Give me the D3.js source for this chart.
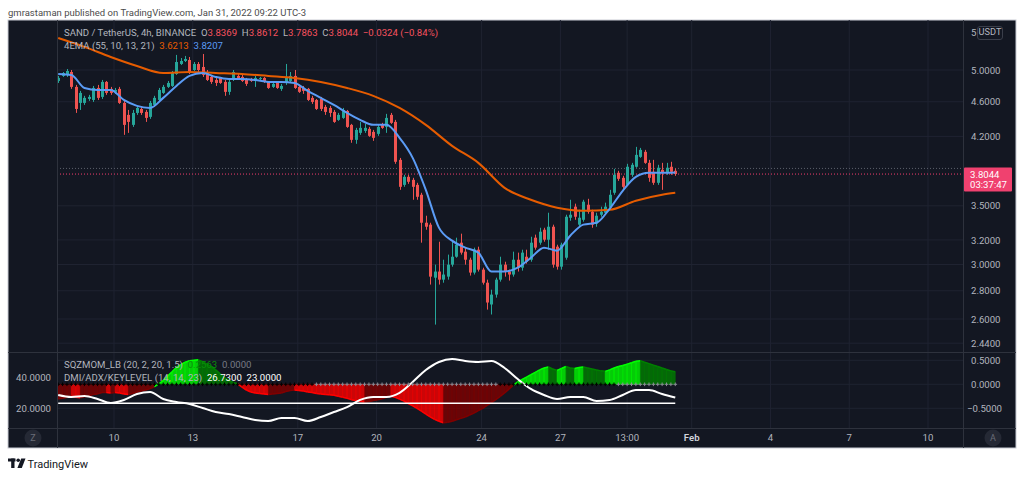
<!DOCTYPE html>
<html><head><meta charset="utf-8">
<script src="https://cdnjs.cloudflare.com/ajax/libs/d3/7.8.5/d3.min.js"></script>
<style>
html,body{margin:0;padding:0;background:#fff;overflow:hidden;}
svg{display:block;font-family:Roboto,"Noto Sans",sans-serif;}
text{white-space:pre;}
</style></head><body>
<svg id="c" width="1024" height="477"></svg>
<script>
// ---------------- DATA ----------------
const firstCandle = "2022-01-07T21:00:00Z"; // 4h candles, chart time UTC-3
const candleHours = 4;
const opens = [4.858,4.923,4.936,4.974,4.783,4.586,4.586,4.634,4.622,4.770,4.659,4.846,4.758,4.721,4.758,4.586,4.444,4.329,4.467,4.514,4.479,4.421,4.562,4.622,4.708,4.783,4.795,4.948,5.080,5.120,5.133,5.000,5.080,5.040,4.974,4.910,4.871,4.897,4.846,4.721,4.871,4.923,4.910,4.871,4.884,4.871,4.884,4.897,4.846,4.783,4.833,4.758,4.833,4.858,4.923,4.783,4.770,4.758,4.647,4.622,4.634,4.538,4.526,4.479,4.386,4.409,4.490,4.329,4.162,4.239,4.261,4.284,4.250,4.228,4.329,4.306,4.444,4.363,3.949,3.698,3.777,3.747,3.698,3.603,3.348,3.331,2.898,2.945,2.883,2.906,2.999,3.062,3.177,3.103,3.038,2.937,3.119,2.960,2.860,2.701,2.772,2.883,2.999,2.945,2.922,3.038,2.975,3.062,3.038,3.219,3.177,3.287,3.202,3.313,3.144,2.983,3.054,3.392,3.492,3.331,3.374,3.510,3.446,3.340,3.419,3.437,3.483,3.622,3.817,3.767,3.698,3.797,3.878,3.980,4.033,3.918,3.827,3.718,3.847,3.817,3.878,3.8369];
const highs = [4.923,4.974,5.013,5.000,4.808,4.733,4.672,4.684,4.795,4.808,4.871,4.858,4.783,4.770,4.783,4.610,4.502,4.502,4.550,4.538,4.502,4.610,4.672,4.770,4.808,4.858,4.987,5.202,5.160,5.188,5.174,5.106,5.106,5.215,5.000,4.936,4.897,4.910,4.871,4.884,5.000,4.948,4.936,4.897,4.897,4.923,4.910,4.910,4.858,4.833,4.846,4.821,5.080,4.974,5.000,4.808,4.795,4.770,4.672,4.634,4.659,4.562,4.550,4.502,4.467,4.526,4.502,4.340,4.295,4.363,4.340,4.306,4.272,4.329,4.352,4.456,4.467,4.386,3.969,3.797,3.797,3.767,3.718,3.622,3.410,3.348,2.999,3.185,3.038,3.079,3.185,3.219,3.253,3.136,3.054,3.136,3.144,2.975,2.883,2.808,2.898,3.062,3.022,2.960,3.103,3.095,3.119,3.119,3.227,3.245,3.304,3.304,3.437,3.331,3.160,3.177,3.419,3.556,3.520,3.464,3.556,3.565,3.464,3.437,3.492,3.529,3.650,3.857,3.837,3.787,3.908,3.918,4.086,4.075,4.054,3.949,3.949,3.898,3.918,3.918,3.929,3.8612];
const lows = [4.833,4.910,4.910,4.758,4.467,4.502,4.562,4.610,4.598,4.622,4.634,4.684,4.684,4.696,4.574,4.217,4.239,4.306,4.444,4.444,4.363,4.398,4.538,4.610,4.696,4.770,4.783,4.936,5.067,5.106,4.948,4.987,4.974,4.910,4.858,4.821,4.795,4.821,4.672,4.684,4.858,4.871,4.846,4.795,4.846,4.783,4.871,4.833,4.758,4.770,4.758,4.733,4.808,4.846,4.758,4.708,4.696,4.610,4.574,4.502,4.490,4.444,4.421,4.352,4.375,4.398,4.295,4.130,4.119,4.217,4.239,4.195,4.151,4.206,4.284,4.239,4.340,3.908,3.650,3.679,3.708,3.556,3.556,3.177,3.287,2.846,2.562,2.846,2.860,2.883,2.983,3.054,3.079,2.999,2.914,2.922,2.945,2.846,2.665,2.631,2.750,2.868,2.906,2.876,2.906,2.945,2.952,3.007,3.022,3.119,3.160,3.185,3.119,2.975,2.960,2.960,3.038,3.365,3.374,3.304,3.357,3.428,3.304,3.313,3.401,3.419,3.464,3.603,3.737,3.660,3.689,3.777,3.868,3.970,3.908,3.728,3.698,3.698,3.650,3.797,3.797,3.7863];
const closes = [4.897,4.961,4.987,4.783,4.514,4.708,4.647,4.659,4.770,4.647,4.846,4.708,4.708,4.745,4.586,4.329,4.363,4.467,4.526,4.467,4.409,4.586,4.647,4.745,4.783,4.833,4.961,5.106,5.120,5.147,4.961,5.080,5.000,4.936,4.871,4.846,4.833,4.833,4.721,4.846,4.974,4.884,4.858,4.821,4.858,4.897,4.897,4.846,4.770,4.821,4.770,4.795,4.897,4.923,4.770,4.721,4.733,4.622,4.598,4.514,4.514,4.479,4.467,4.363,4.444,4.502,4.306,4.162,4.272,4.295,4.295,4.206,4.184,4.306,4.295,4.409,4.352,3.929,3.679,3.777,3.728,3.679,3.584,3.348,3.313,2.906,2.945,2.883,2.922,2.999,3.062,3.160,3.095,3.038,2.937,3.119,2.960,2.860,2.715,2.772,2.883,2.999,2.945,2.922,3.038,2.975,3.095,3.022,3.177,3.136,3.270,3.202,3.313,2.999,2.983,3.160,3.401,3.419,3.401,3.392,3.538,3.446,3.331,3.410,3.446,3.492,3.603,3.797,3.757,3.679,3.878,3.898,4.001,4.054,3.918,3.767,3.718,3.868,3.817,3.868,3.827,3.8044];

// 4EMA (55, 10, 13, 21): slow (orange) and fast (blue), read at candle indices
const emaSlowAt = [0,6,12,18,24,30,36,42,48,54,60,66,72,78,84,90,96,102,108,114,120,126,132,138,141];
const emaSlow   = [5.438,5.313,5.174,5.053,4.961,4.974,4.961,4.948,4.923,4.897,4.846,4.770,4.672,4.526,4.329,4.097,3.918,3.669,3.556,3.483,3.455,3.464,3.547,3.603,3.6213];
const emaFastAt = [0,3,6,9,12,15,18,21,24,27,30,33,36,39,42,45,48,51,54,57,60,63,66,69,72,75,78,81,84,87,90,93,96,99,102,105,108,111,114,117,120,123,126,129,132,135,138,141];
const emaFast   = [4.948,4.936,4.770,4.745,4.745,4.622,4.550,4.526,4.647,4.795,4.923,4.961,4.910,4.884,4.884,4.871,4.846,4.846,4.833,4.733,4.647,4.562,4.467,4.386,4.329,4.329,4.184,3.970,3.650,3.305,3.194,3.136,3.095,2.945,2.945,2.975,3.054,3.136,3.111,3.236,3.331,3.348,3.473,3.641,3.777,3.817,3.817,3.8207];

// SQZMOM_LB momentum, one value per candle
const sqzMom = [-0.30,-0.29,-0.27,-0.26,-0.27,-0.28,-0.26,-0.24,-0.21,-0.20,-0.17,-0.17,-0.18,-0.17,-0.18,-0.20,-0.21,-0.19,-0.16,-0.14,-0.12,-0.09,-0.05,0.01,0.08,0.17,0.26,0.35,0.41,0.46,0.49,0.50,0.51,0.47,0.42,0.37,0.30,0.22,0.14,0.08,0.04,0.01,-0.06,-0.12,-0.16,-0.18,-0.19,-0.20,-0.21,-0.20,-0.19,-0.18,-0.15,-0.13,-0.12,-0.13,-0.14,-0.16,-0.17,-0.19,-0.20,-0.21,-0.22,-0.23,-0.25,-0.27,-0.29,-0.32,-0.34,-0.36,-0.37,-0.36,-0.34,-0.32,-0.30,-0.27,-0.25,-0.27,-0.31,-0.35,-0.40,-0.45,-0.50,-0.56,-0.62,-0.68,-0.73,-0.77,-0.80,-0.79,-0.77,-0.74,-0.71,-0.68,-0.64,-0.60,-0.55,-0.50,-0.44,-0.38,-0.32,-0.25,-0.18,-0.10,-0.02,0.05,0.10,0.15,0.20,0.25,0.30,0.34,0.36,0.32,0.29,0.33,0.37,0.34,0.33,0.35,0.36,0.34,0.32,0.30,0.28,0.27,0.30,0.34,0.37,0.39,0.42,0.45,0.48,0.49,0.46,0.43,0.40,0.37,0.34,0.31,0.28,0.26];
// squeeze-on candle index ranges (black crosses), others grey
const sqzOnRanges = [[0,58],[101,127]];

// DMI/ADX/KEYLEVEL (14,14,23): ADX read at candle indices
const adxAt = [0,3,6,9,12,15,18,21,24,27,30,33,36,39,42,45,48,51,54,57,60,63,66,69,72,75,78,81,84,87,90,93,96,99,102,105,108,111,114,117,120,123,126,129,132,135,138,141];
const adx   = [28.4,27.1,27.7,25.8,23.2,25.2,29.0,30.3,25.8,23.9,22.6,20.0,17.4,16.1,14.2,12.3,11.6,13.5,13.5,11.6,14.2,17.4,20.6,25.2,27.1,27.1,29.7,36.8,44.5,49.7,51.6,50.3,49.7,50.3,45.8,38.7,32.3,28.4,25.8,27.1,27.1,24.5,25.2,28.4,31.6,31.6,29.0,26.73];
const keyLevel = 23;

const priceTicks = [5.0,4.6,4.2,3.5,3.2,3.0,2.8,2.6,2.44];
const sqzTicks = [0.5,0,-0.5];
const adxTicks = [40,20];
const timeTicks = ["2022-01-10T00:00Z","2022-01-13T00:00Z","2022-01-17T00:00Z","2022-01-20T00:00Z","2022-01-24T00:00Z","2022-01-27T00:00Z","2022-01-29T13:00Z","2022-02-01T00:00Z","2022-02-04T00:00Z","2022-02-07T00:00Z","2022-02-10T00:00Z"];
const timeLabels = ["10","13","17","20","24","27","13:00","Feb","4","7","10"];
const lastPrice = 3.8044, lastHigh = 3.8612, countdown = "03:37:47";

// ---------------- LAYOUT ----------------
const svg = d3.select("#c");
const F = {x0:8, x1:1016, y0:20, y1:448};
const L = 57, R = 963, mainBot = 352, indBot = 428;
const bg = "#131722", gridC = "#1f2331", sepC = "#2e323d", txt = "#b2b5be";
const upC = "#26a69a", dnC = "#ef5350";
const FS = 9.6;

const x = d3.scaleUtc().domain([new Date("2022-01-10T00:00Z"), new Date("2022-02-10T00:00Z")]).range([114, 928]);
const y = d3.scaleLog().domain([2.6, 5]).range([319, 70]);
const ys = d3.scaleLinear().domain([-0.5, 0.5]).range([408.3, 360.3]);
const ya = d3.scaleLinear().domain([20, 40]).range([408, 377]);
const t0 = Date.parse(firstCandle);
const tAt = i => new Date(t0 + i * candleHours * 3600e3);
const candles = closes.map((c, i) => ({i, t: tAt(i), o: opens[i], h: highs[i], l: lows[i], c}));

// header
svg.append("text").attr("x", 8).attr("y", 15.5).attr("font-size", 9.5).attr("fill", "#4c4c4c")
  .text("gmrastaman published on TradingView.com, Jan 31, 2022 09:22 UTC-3");

// frame
svg.append("rect").attr("x", F.x0).attr("y", F.y0).attr("width", F.x1 - F.x0).attr("height", F.y1 - F.y0)
  .attr("fill", bg).attr("stroke", "#c9ccd4").attr("stroke-width", 1);

const defs = svg.append("defs");
defs.append("clipPath").attr("id", "cm").append("rect").attr("x", L).attr("y", F.y0).attr("width", R - L).attr("height", mainBot - F.y0);
defs.append("clipPath").attr("id", "ci").append("rect").attr("x", L).attr("y", mainBot).attr("width", R - L).attr("height", indBot - mainBot);

// grid
const grid = svg.append("g");
grid.selectAll(".vg").data(timeTicks).join("line")
  .attr("x1", d => x(new Date(d))).attr("x2", d => x(new Date(d)))
  .attr("y1", F.y0).attr("y2", indBot).attr("stroke", gridC);
grid.selectAll(".hg").data(priceTicks).join("line")
  .attr("x1", L).attr("x2", R).attr("y1", d => y(d)).attr("y2", d => y(d)).attr("stroke", gridC);
grid.selectAll(".sg").data(sqzTicks).join("line")
  .attr("x1", L).attr("x2", R).attr("y1", d => ys(d)).attr("y2", d => ys(d)).attr("stroke", gridC);

// main pane
const main = svg.append("g").attr("clip-path", "url(#cm)");
main.append("line").attr("x1", L).attr("x2", R).attr("y1", y(lastHigh)).attr("y2", y(lastHigh))
  .attr("stroke", "#5d606b").attr("stroke-dasharray", "1,2");
main.append("line").attr("x1", L).attr("x2", R).attr("y1", y(lastPrice)).attr("y2", y(lastPrice))
  .attr("stroke", "#f23d6d").attr("stroke-dasharray", "1,2");

const cg = main.append("g");
cg.selectAll(".w").data(candles).join("line")
  .attr("x1", d => Math.round(x(d.t)) + 0.5).attr("x2", d => Math.round(x(d.t)) + 0.5)
  .attr("y1", d => y(d.h)).attr("y2", d => y(d.l))
  .attr("stroke", d => d.c >= d.o ? upC : dnC).attr("stroke-width", 1);
cg.selectAll(".b").data(candles).join("rect")
  .attr("x", d => Math.round(x(d.t)) - 1).attr("width", 3)
  .attr("y", d => y(Math.max(d.o, d.c)))
  .attr("height", d => Math.max(1, Math.abs(y(d.o) - y(d.c))))
  .attr("fill", d => d.c >= d.o ? upC : dnC);

const emaLine = d3.line().x(d => x(tAt(d[0]))).y(d => y(d[1])).curve(d3.curveMonotoneX);
main.append("path").attr("d", emaLine(emaSlowAt.map((k, j) => [k, emaSlow[j]])))
  .attr("fill", "none").attr("stroke", "#e65c00").attr("stroke-width", 2);
main.append("path").attr("d", emaLine(emaFastAt.map((k, j) => [k, emaFast[j]])))
  .attr("fill", "none").attr("stroke", "#5b9cf6").attr("stroke-width", 2);

// legends
function legendLine(yy, parts) {
  const t = svg.append("text").attr("x", 64).attr("y", yy).attr("font-size", FS).attr("dominant-baseline", "middle")
    .attr("xml:space", "preserve");
  parts.forEach(p => t.append("tspan").attr("fill", p[1]).text(p[0]));
}
const lc = "#f7525f";
legendLine(33, [["SAND / TetherUS, 4h, BINANCE  ", txt], ["O", txt], ["3.8369  ", lc], ["H", txt], ["3.8612  ", lc], ["L", txt], ["3.7863  ", lc], ["C", txt], ["3.8044  ", lc], ["\u22120.0324 (\u22120.84%)", lc]]);
legendLine(46, [["4EMA (55, 10, 13, 21)  ", txt], ["3.6213  ", "#e65c00"], ["3.8207", "#5b9cf6"]]);

// indicator pane
const ind = svg.append("g").attr("clip-path", "url(#ci)");
const sqCol = (i) => {
  const v = sqzMom[i], p = i > 0 ? sqzMom[i - 1] : v;
  if (v >= 0) return v > p ? "#00ff00" : "#008000";
  return v < p ? "#ff0000" : "#800000";
};
const step = x(tAt(1)) - x(tAt(0));
const segs = sqzMom.map((v, i) => {
  const xa = i === 0 ? x(tAt(0)) - step / 2 : x(tAt(i - 1));
  const va = i === 0 ? v : sqzMom[i - 1];
  const xb = x(tAt(i));
  return {i, pts: [[xa, ys(0)], [xa, ys(va)], [xb, ys(v)], [xb, ys(0)]]};
});
ind.selectAll(".h").data(segs).join("polygon")
  .attr("points", d => d.pts.map(p => p.join(",")).join(" "))
  .attr("fill", d => sqCol(d.i)).attr("fill-opacity", 0.78)
  .attr("stroke", d => sqCol(d.i)).attr("stroke-opacity", 0.78).attr("stroke-width", 0.6);
ind.selectAll(".ht").data(segs).join("line")
  .attr("x1", d => d.pts[1][0]).attr("y1", d => d.pts[1][1]).attr("x2", d => d.pts[2][0]).attr("y2", d => d.pts[2][1])
  .attr("stroke", d => sqCol(d.i)).attr("stroke-width", 1.5);

// key level & ADX
ind.append("line").attr("x1", x(tAt(0))).attr("x2", x(tAt(closes.length - 1)))
  .attr("y1", ya(keyLevel)).attr("y2", ya(keyLevel)).attr("stroke", "#ffffff").attr("stroke-width", 1.5);
const adxLine = d3.line().x(d => x(tAt(d[0]))).y(d => ya(d[1])).curve(d3.curveMonotoneX);
ind.append("path").attr("d", adxLine(adxAt.map((k, j) => [k, adx[j]])))
  .attr("fill", "none").attr("stroke", "#ffffff").attr("stroke-width", 2);

// squeeze crosses
const isOn = i => sqzOnRanges.some(r => i >= r[0] && i <= r[1]);
const cr = ind.append("g");
candles.forEach(d => {
  const cx = x(d.t), cy = ys(0), col = isOn(d.i) ? "#000000" : "#8a8d96";
  cr.append("path").attr("d", `M${cx - 1.8},${cy}H${cx + 1.8}M${cx},${cy - 1.8}V${cy + 1.8}`)
    .attr("stroke", col).attr("stroke-width", 1);
});

legendLine(365, [["SQZMOM_LB (20, 2, 20, 1.5)  ", txt], ["0.2563  ", "#0b8f0b"], ["0.0000", "#787b86"]]);
legendLine(377.5, [["DMI/ADX/KEYLEVEL (14, 14, 23)  ", txt], ["26.7300  ", "#ffffff"], ["23.0000", "#ffffff"]]);

// separators
const sep = svg.append("g").attr("stroke", sepC).attr("stroke-width", 1);
sep.append("line").attr("x1", F.x0).attr("x2", F.x1).attr("y1", mainBot + 0.5).attr("y2", mainBot + 0.5);
sep.append("line").attr("x1", F.x0).attr("x2", F.x1).attr("y1", indBot + 0.5).attr("y2", indBot + 0.5);
sep.append("line").attr("x1", L + 0.5).attr("x2", L + 0.5).attr("y1", F.y0).attr("y2", F.y1);
sep.append("line").attr("x1", R + 0.5).attr("x2", R + 0.5).attr("y1", F.y0).attr("y2", F.y1);

// price axis
const pa = svg.append("g").attr("transform", `translate(${R},0)`)
  .call(d3.axisRight(y).tickValues(priceTicks).tickFormat(d3.format(".4f")).tickSize(0).tickPadding(8));
pa.select(".domain").remove();
pa.selectAll("text").attr("fill", txt).attr("font-size", FS).attr("font-family", "Roboto,'Noto Sans',sans-serif");
svg.append("text").attr("x", 971).attr("y", 33).attr("dominant-baseline", "middle").attr("fill", txt).attr("font-size", FS).text("5");
svg.append("rect").attr("x", 977.5).attr("y", 26.5).attr("width", 25).attr("height", 13).attr("rx", 2.5)
  .attr("fill", bg).attr("stroke", "#3a3e4a");
svg.append("text").attr("x", 990).attr("y", 33).attr("text-anchor", "middle").attr("dominant-baseline", "middle")
  .attr("fill", txt).attr("font-size", 9.2).text("USDT");

// last price label
const lpY = y(lastPrice);
svg.append("rect").attr("x", R + 1).attr("y", lpY - 6.5).attr("width", 48).attr("height", 24).attr("fill", "#f0416f").attr("rx", 1);
svg.append("text").attr("x", 970).attr("y", lpY + 1).attr("dominant-baseline", "middle").attr("fill", "#fff").attr("font-size", FS).text(lastPrice.toFixed(4));
svg.append("text").attr("x", 970).attr("y", lpY + 11.5).attr("dominant-baseline", "middle").attr("fill", "#fff").attr("font-size", FS).text(countdown);

// indicator axes
const sa = svg.append("g").attr("transform", `translate(${R},0)`)
  .call(d3.axisRight(ys).tickValues(sqzTicks).tickFormat(d => (d < 0 ? "\u2212" : "") + Math.abs(d).toFixed(4)).tickSize(0).tickPadding(8));
sa.select(".domain").remove();
sa.selectAll("text").attr("fill", txt).attr("font-size", FS).attr("font-family", "Roboto,'Noto Sans',sans-serif");
sa.selectAll(".tick").filter(d => d < 0).select("text").attr("dx", -4);
const aa = svg.append("g").attr("transform", `translate(${L - 6},0)`)
  .call(d3.axisLeft(ya).tickValues(adxTicks).tickFormat(d3.format(".4f")).tickSize(0).tickPadding(0));
aa.select(".domain").remove();
aa.selectAll("text").attr("fill", txt).attr("font-size", FS).attr("font-family", "Roboto,'Noto Sans',sans-serif");

// time axis
const ta = svg.append("g");
ta.selectAll("text").data(timeTicks).join("text")
  .attr("x", d => x(new Date(d))).attr("y", 438.5).attr("text-anchor", "middle").attr("dominant-baseline", "middle")
  .attr("fill", (d, i) => timeLabels[i] === "Feb" ? "#d1d4dc" : txt)
  .attr("font-weight", (d, i) => timeLabels[i] === "Feb" ? 600 : 400)
  .attr("font-size", FS).text((d, i) => timeLabels[i]);

// corner buttons
[[33, "Z"], [993, "A"]].forEach(b => {
  svg.append("circle").attr("cx", b[0]).attr("cy", 438).attr("r", 8.5).attr("fill", "#252935");
  svg.append("text").attr("x", b[0]).attr("y", 438.5).attr("text-anchor", "middle").attr("dominant-baseline", "middle")
    .attr("fill", "#6a6d78").attr("font-size", 9).text(b[1]);
});

// TradingView footer logo
const lg = svg.append("g").attr("fill", "#131722");
lg.append("rect").attr("x", 8).attr("y", 458.5).attr("width", 7.5).attr("height", 3);
lg.append("rect").attr("x", 11.2).attr("y", 458.5).attr("width", 3.3).attr("height", 9.5);
lg.append("circle").attr("cx", 18.2).attr("cy", 460.2).attr("r", 1.8);
lg.append("polygon").attr("points", "21.2,458.5 25.5,458.5 21.8,468 17.4,468");
svg.append("text").attr("x", 27.5).attr("y", 467.5).attr("font-size", 11).attr("fill", "#131722").text("TradingView");
</script>
</body></html>
